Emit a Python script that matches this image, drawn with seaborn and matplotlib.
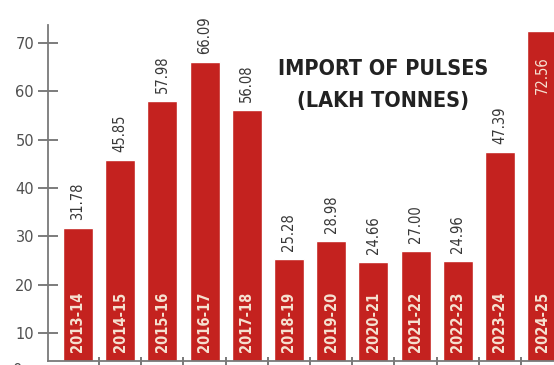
import matplotlib
matplotlib.use("Agg")
import matplotlib.pyplot as plt
from matplotlib.ticker import FixedLocator
import seaborn as sns
import pandas as pd

# Pulse imports, lakh tonnes, by financial year
years = ["2013-14", "2014-15", "2015-16", "2016-17", "2017-18", "2018-19",
         "2019-20", "2020-21", "2021-22", "2022-23", "2023-24", "2024-25"]
imports = [31.78, 45.85, 57.98, 66.09, 56.08, 25.28,
           28.98, 24.66, 27.00, 24.96, 47.39, 72.56]
value_labels = ["31.78", "45.85", "57.98", "66.09", "56.08", "25.28",
                "28.98", "24.66", "27.00", "24.96", "47.39", "72.56"]
y_ticks = [10, 20, 30, 40, 50, 60, 70]
title = "IMPORT OF PULSES\n(LAKH TONNES)"

BAR = "#C4221F"
AXIS = "#7a7a7a"
LIGHT = "#F6E2D2"

sns.set_theme(style="white")
plt.rcParams["font.family"] = ["DejaVu Sans"]

df = pd.DataFrame({"year": years, "imports": imports})

fig = plt.figure(figsize=(5.54, 3.65), dpi=100)
ax = fig.add_axes([48 / 554, 4 / 365, 1 - 48 / 554, 336 / 365])

sns.barplot(data=df, x="year", y="imports", order=years, color=BAR,
            saturation=1, width=0.71, ax=ax, zorder=2)

ax.set_xlim(-0.71, 11.28)
ax.set_ylim(4.2, 73.7)
ax.set_xlabel("")
ax.set_ylabel("")

# spines: only left and bottom, in grey
for side in ("top", "right"):
    ax.spines[side].set_visible(False)
for side in ("left", "bottom"):
    ax.spines[side].set_color(AXIS)
    ax.spines[side].set_linewidth(1.3)

# y ticks crossing the axis line
ax.yaxis.set_major_locator(FixedLocator(y_ticks))
ax.tick_params(axis="y", which="major", direction="inout", length=14,
               width=1.2, color="#666666", pad=3, labelsize=10.5,
               labelcolor="#505050", left=True)
ax.text(-0.05, 2.3, "0", transform=ax.get_yaxis_transform(), ha="right",
        va="center", fontsize=10.5, color="#505050", clip_on=False)

# x axis: no labels, small separators between bars
ax.set_xticks([])
ax.xaxis.set_minor_locator(FixedLocator([i + 0.5 for i in range(len(years) - 1)]))
ax.tick_params(axis="x", which="minor", direction="inout", length=6,
               width=1.1, color="#555555", bottom=True)

# value labels above the bars (inside the tallest one) and year labels inside
last = len(imports) - 1
for i, (v, lab, yr) in enumerate(zip(imports, value_labels, years)):
    if i == last:
        ax.text(i, v - 5.3, lab, rotation=90, ha="center", va="top",
                fontsize=10.5, fontstretch="condensed", color=LIGHT, zorder=3)
    else:
        ax.text(i, v + 1.6, lab, rotation=90, ha="center", va="bottom",
                fontsize=10.5, fontstretch="condensed", color="#383838",
                zorder=3)
    ax.text(i, 6.1, yr, rotation=90, ha="center", va="bottom",
            fontsize=10.5, fontstretch="condensed", fontweight="bold",
            color=LIGHT, zorder=3)

fig.text(383 / 554, 1 - 85 / 365, title, ha="center", va="center",
         fontsize=15.5, fontstretch="condensed", fontweight="bold",
         color="#222222", linespacing=1.8)

fig.savefig("out.png", dpi=100)
